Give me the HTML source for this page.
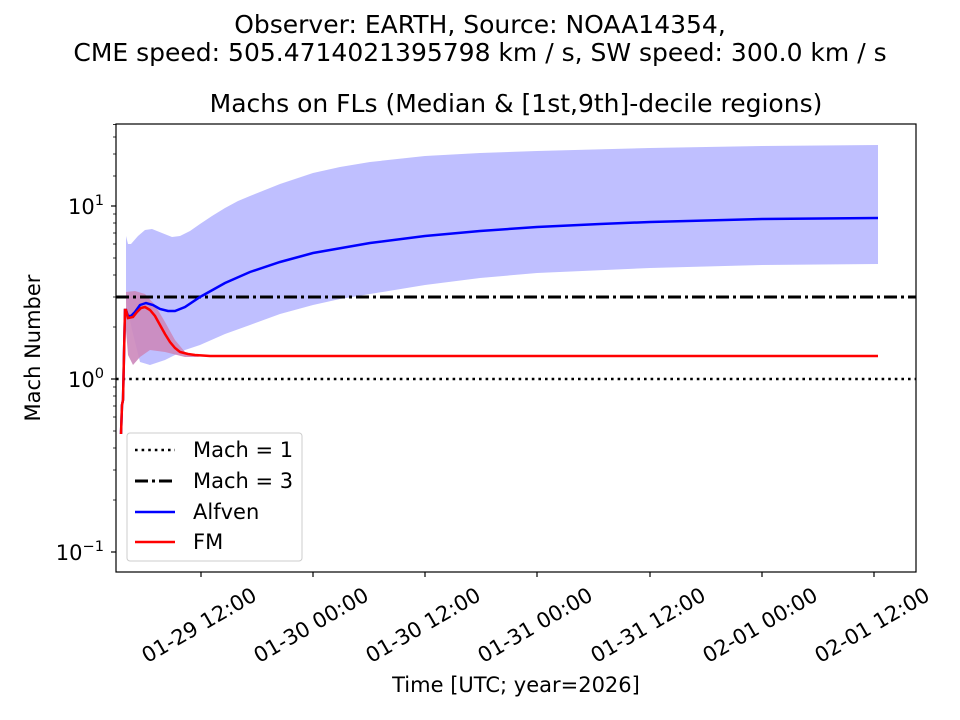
<!DOCTYPE html>
<html><head><style>body{margin:0;background:#fff}svg{display:block;font-family:"DejaVu Sans","Liberation Sans",sans-serif}</style></head><body>
<svg width="960" height="720" viewBox="0 0 960 720">
<text x="480" y="33" font-size="25" text-anchor="middle">Observer: EARTH, Source: NOAA14354,</text>
<text x="480" y="61" font-size="25" text-anchor="middle">CME speed: 505.4714021395798 km / s, SW speed: 300.0 km / s</text>
<text x="516" y="112" font-size="25" text-anchor="middle">Machs on FLs (Median &amp; [1st,9th]-decile regions)</text>
<defs><clipPath id="c"><rect x="116" y="124" width="800" height="448"/></clipPath></defs>
<g clip-path="url(#c)">
<path d="M126,236 L128,244 L131,244 L138,236 L145,230 L152,229 L162,233 L172,237 L180,236 L190,231 L200,224 L212,216 L225,208 L238,201 L250,196 L280,184 L313,173 L340,167 L370,162 L425,156 L480,153 L537,151 L650,148 L762,146 L878,145 L878,264 L762,265 L650,268 L537,273 L480,278 L425,285 L370,294 L340,299 L313,305 L280,314 L250,325 L225,334 L200,345 L185,350 L165,360 L150,365 L140,362 L132,330 L126,300 Z" fill="#bfbfff"/>
<path d="M126,292 L135,291 L145,294 L155,305 L165,322 L175,340 L185,352 L195,356 L200,357 L185,357 L165,352 L150,350 L140,357 L133,365 L128,355 L126,330 Z" fill="#cc88bb" opacity="0.9"/>
<line x1="116" y1="379" x2="916" y2="379" stroke="#000" stroke-width="2.6" stroke-dasharray="2.6,4"/>
<line x1="116" y1="297" x2="916" y2="297" stroke="#000" stroke-width="3" stroke-dasharray="13,4,3,4"/>
<path d="M121,434 L122,405 L123,400 L125,310 L126,310 L128,316 L131,316 L135,312 L140,305 L146,303 L153,305 L160,309 L168,311 L175,311 L185,307 L200,297 L225,283 L250,272 L280,262 L313,253 L370,243 L425,236 L480,231 L537,227 L600,224 L650,222 L762,219 L878,218" fill="none" stroke="#0000ff" stroke-width="2.5"/>
<path d="M121,434 L122,405 L123,400 L125,310 L126,310 L128,318 L133,317 L137,312 L141,308 L145,307 L150,310 L155,316 L160,325 L165,334 L170,342 L175,348 L180,352 L188,354 L195,355 L210,356 L250,356 L878,356" fill="none" stroke="#ff0000" stroke-width="2.5"/>
</g>
<rect x="116" y="124" width="800" height="448" fill="none" stroke="#000" stroke-width="1.2"/>
<g stroke="#000" stroke-width="1.2">
<line x1="111" y1="206" x2="116" y2="206"/><line x1="111" y1="379" x2="116" y2="379"/><line x1="111" y1="552" x2="116" y2="552"/>
<g stroke-width="0.8">
<line x1="113" y1="154" x2="116" y2="154"/><line x1="113" y1="176" x2="116" y2="176"/><line x1="113" y1="124.5" x2="116" y2="124.5"/><line x1="113" y1="137" x2="116" y2="137"/>
<line x1="113" y1="327" x2="116" y2="327"/><line x1="113" y1="297" x2="116" y2="297"/><line x1="113" y1="275" x2="116" y2="275"/><line x1="113" y1="258" x2="116" y2="258"/><line x1="113" y1="244" x2="116" y2="244"/><line x1="113" y1="233" x2="116" y2="233"/><line x1="113" y1="223" x2="116" y2="223"/><line x1="113" y1="214" x2="116" y2="214"/>
<line x1="113" y1="500" x2="116" y2="500"/><line x1="113" y1="470" x2="116" y2="470"/><line x1="113" y1="448" x2="116" y2="448"/><line x1="113" y1="431" x2="116" y2="431"/><line x1="113" y1="417" x2="116" y2="417"/><line x1="113" y1="406" x2="116" y2="406"/><line x1="113" y1="396" x2="116" y2="396"/><line x1="113" y1="387" x2="116" y2="387"/>
</g>
<line x1="201" y1="572" x2="201" y2="577"/><line x1="313" y1="572" x2="313" y2="577"/><line x1="425" y1="572" x2="425" y2="577"/><line x1="537" y1="572" x2="537" y2="577"/><line x1="650" y1="572" x2="650" y2="577"/><line x1="762" y1="572" x2="762" y2="577"/><line x1="874" y1="572" x2="874" y2="577"/>
</g>
<g font-size="21" text-anchor="end">
<text x="104" y="214">10<tspan font-size="14.6" dy="-9">1</tspan></text>
<text x="104" y="387">10<tspan font-size="14.6" dy="-9">0</tspan></text>
<text x="104" y="560">10<tspan font-size="14.6" dy="-9">−1</tspan></text>
</g>
<text transform="translate(40,348) rotate(-90)" font-size="21" text-anchor="middle">Mach Number</text>
<g font-size="21" text-anchor="middle">
<text transform="translate(199,625) rotate(-30)" dy="0.35em">01-29 12:00</text>
<text transform="translate(311,625) rotate(-30)" dy="0.35em">01-30 00:00</text>
<text transform="translate(423,625) rotate(-30)" dy="0.35em">01-30 12:00</text>
<text transform="translate(535,625) rotate(-30)" dy="0.35em">01-31 00:00</text>
<text transform="translate(648,625) rotate(-30)" dy="0.35em">01-31 12:00</text>
<text transform="translate(760,625) rotate(-30)" dy="0.35em">02-01 00:00</text>
<text transform="translate(872,625) rotate(-30)" dy="0.35em">02-01 12:00</text>
</g>
<text x="516" y="692" font-size="21" text-anchor="middle">Time [UTC; year=2026]</text>
<rect x="127" y="433" width="175" height="128" rx="3" fill="#fff" fill-opacity="0.8" stroke="#ccc"/>
<line x1="135" y1="450" x2="175" y2="450" stroke="#000" stroke-width="2.6" stroke-dasharray="2.6,4"/>
<line x1="135" y1="481" x2="175" y2="481" stroke="#000" stroke-width="3" stroke-dasharray="13,4,3,4"/>
<line x1="135" y1="512" x2="175" y2="512" stroke="#00f" stroke-width="2.5"/>
<line x1="135" y1="542" x2="175" y2="542" stroke="#f00" stroke-width="2.5"/>
<g font-size="21"><text x="193" y="457">Mach = 1</text><text x="193" y="488">Mach = 3</text><text x="193" y="519">Alfven</text><text x="193" y="549">FM</text></g>
</svg>
</body></html>
